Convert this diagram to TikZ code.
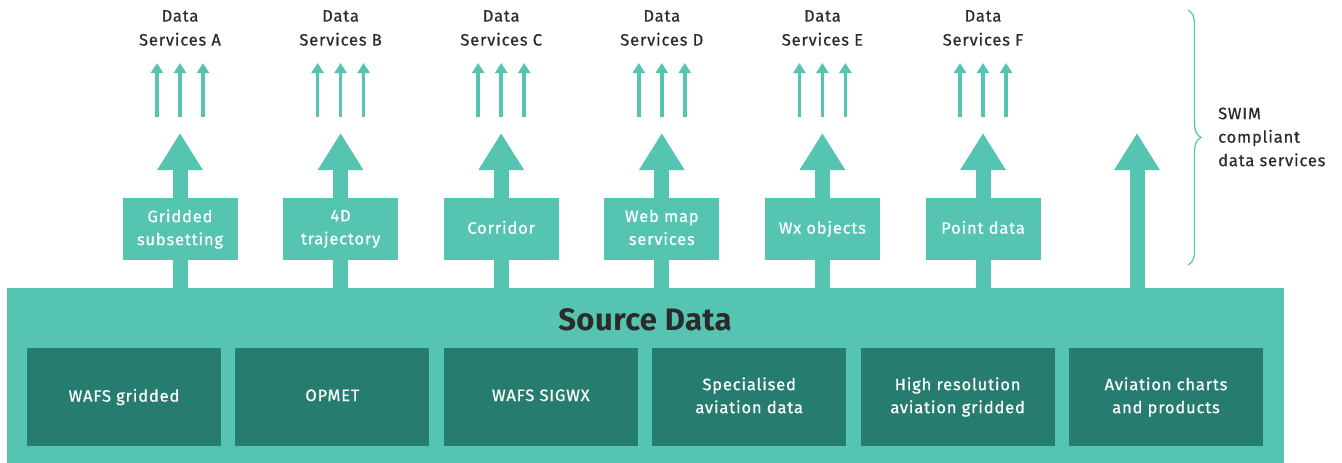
\documentclass[tikz,border=0pt]{standalone}
\usepackage{fontspec}
\setmainfont{Fira Sans}[LetterSpace=5, FakeBold=0.6]
\newfontfamily\titlefont{Fira Sans}[LetterSpace=1.5]
\usetikzlibrary{arrows.meta,positioning,decorations.pathreplacing}
\definecolor{swimlight}{HTML}{55C5B2}
\definecolor{swimdark}{HTML}{267D6F}
\definecolor{swimtext}{HTML}{2B2B2B}
\tikzset{
  subbox/.style={fill=swimlight, text=white, minimum width=115pt, minimum height=62pt, align=center, inner sep=2pt, text depth=3.5pt, font=\fontsize{16.5}{23}\selectfont},
  srcbox/.style={fill=swimdark, text=white, minimum width=194pt, minimum height=98pt, align=center, inner sep=2pt, text depth=3.5pt, font=\fontsize{16.5}{23}\selectfont},
  svclabel/.style={text=swimtext, align=center, inner sep=0pt, font=\fontsize{16.5}{24}\selectfont},
  bigarrow/.style={draw=swimlight, line width=15pt, -{Triangle[width=43pt,length=37pt,fill=swimlight]}},
  smallarrow/.style={draw=swimlight, line width=3.5pt, -{Triangle[width=12pt,length=10pt,fill=swimlight]}},
}
\begin{document}
\begin{tikzpicture}[x=1pt,y=-1pt]
\useasboundingbox (0,0) rectangle (1342,463);
% source data block
\node[fill=swimlight, minimum width=1277pt, minimum height=176pt, anchor=north west, inner sep=0pt] (src) at (7,288) {};
\node[text=swimtext, font=\fontsize{31}{33}\titlefont\bfseries] (srctitle) at (645,320) {Source Data};
\foreach \i/\t in {0/WAFS gridded, 1/OPMET, 2/WAFS SIGWX, 3/{Specialised\\aviation data}, 4/{High resolution\\aviation gridded}, 5/{Aviation charts\\and products}} {
    \node[srcbox] (data\i) at ({124+208.4*\i},397) {\t};
}
% processing services
\foreach \i/\t/\s in {0/{Gridded\\subsetting}/A, 1/{4D\\trajectory}/B, 2/Corridor/C, 3/{Web map\\services}/D, 4/Wx objects/E, 5/Point data/F} {
    \node[subbox] (sub\i) at ({180+160.6*\i},229) {\t};
    \node[svclabel] (svc\i) at ({180+160.6*\i},28) {Data\\Services \s};
    \coordinate (tip\i) at ({180+160.6*\i},133);
    \coordinate (lo\i) at ({180+160.6*\i},117);
    \coordinate (hi\i) at ({180+160.6*\i},63);
    \draw[draw=swimlight, line width=15pt] (sub\i.south) -- (sub\i.south |- src.north);
    \draw[bigarrow] (sub\i.north) -- (tip\i);
    \foreach \d in {-23,0,23}
        \draw[smallarrow] ([xshift=\d pt]lo\i) -- ([xshift=\d pt]hi\i);
}
% charts go straight through
\coordinate (tipcharts) at (1137,133);
\draw[bigarrow] (tipcharts |- src.north) -- (tipcharts);
% brace
\coordinate (bracetop) at (1188,10);
\coordinate (bracebot) at (1188,265);
\draw[swimlight, line width=1.2pt, decorate, decoration={brace, amplitude=13pt}] (bracetop) -- (bracebot);
\node[svclabel, align=left, anchor=west, font=\fontsize{16.5}{23.5}\selectfont] (swim) at (1218,137) {SWIM\\compliant\\data services};
\end{tikzpicture}
\end{document}
